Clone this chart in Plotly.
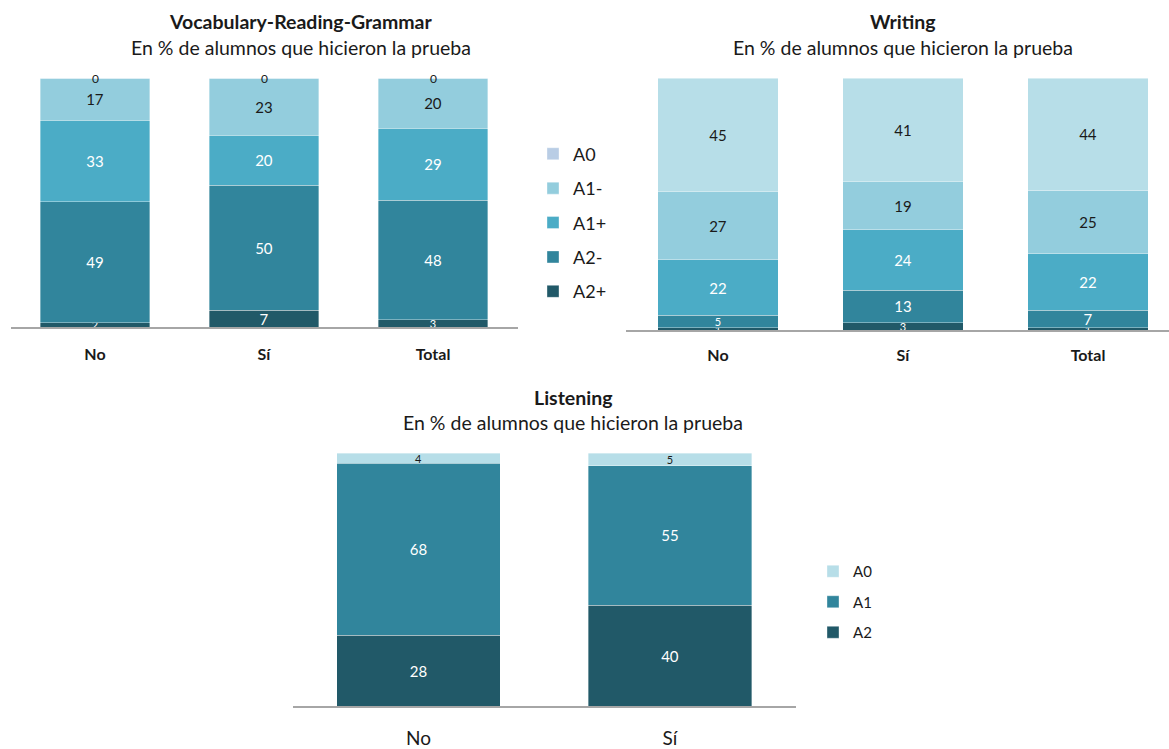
import plotly.graph_objects as go

# categories
cats = ["No", "Sí", "Total"]
lis_cats = ["No", "Sí"]
levels5 = ["A2+", "A2-", "A1+", "A1-", "A0"]
levels3 = ["A2", "A1", "A0"]

# Vocabulary-Reading-Grammar (% of students)
vrg_a2p = [2, 7, 3]
vrg_a2m = [49, 50, 48]
vrg_a1p = [33, 20, 29]
vrg_a1m = [17, 23, 20]
vrg_a0 = [0, 0, 0]

# Writing
wri_a2p = [1, 3, 1]
wri_a2m = [5, 13, 7]
wri_a1p = [22, 24, 22]
wri_a1m = [27, 19, 25]
wri_a0 = [45, 41, 44]

# Listening
lis_a2 = [28, 40]
lis_a1 = [68, 55]
lis_a0 = [4, 5]

FONT = "Lato"
W, H = 1169, 749

col5 = ["#215968", "#31859C", "#4BACC6", "#93CDDD", "#B9CDE5"]
col5w = ["#215968", "#31859C", "#4BACC6", "#93CDDD", "#B7DEE8"]
col3 = ["#215968", "#31859C", "#B7DEE8"]
txt5 = ["white", "white", "white", "#1a1a1a", "#1a1a1a"]
txt3 = ["white", "white", "#1a1a1a"]


def px(x):
    return x / W


def py(y):
    return 1 - y / H


def add_stack(fig, x, series, names, colors, tcolors, xa, ya, legend, show):
    totals = [sum(s[i] for s in series) for i in range(len(x))]
    cum = [0.0] * len(x)
    n = len(series)
    for k, (vals, name, c, tc) in enumerate(zip(series, names, colors, tcolors)):
        y = [v * 100.0 / t for v, t in zip(vals, totals)]
        sizes = [11 if v < 6 else 15 for v in vals]
        fig.add_trace(go.Bar(
            x=x, y=y, name=name, text=[str(v) for v in vals],
            textposition="inside", insidetextanchor="middle", textangle=0,
            constraintext="none", cliponaxis=False,
            textfont=dict(color=tc, size=sizes, family=FONT),
            marker=dict(color=c, line=dict(color="rgba(255,255,255,0.6)", width=0.6)),
            width=0.65, xaxis=xa, yaxis=ya, legend=legend, showlegend=show,
            legendgroup=xa + name, legendrank=n - k, hoverinfo="skip",
        ))
        for i, v in enumerate(vals):
            cum[i] += y[i]
            if v == 0:
                # zero-height segment: label sits on the top edge of the stack
                fig.add_annotation(x=x[i], y=cum[i], xref=xa, yref=ya, text=str(v),
                                   showarrow=False, yanchor="middle",
                                   font=dict(size=12, family=FONT, color=tc))


fig = go.Figure()
add_stack(fig, cats, [vrg_a2p, vrg_a2m, vrg_a1p, vrg_a1m, vrg_a0], levels5,
          col5, txt5, "x", "y", "legend", True)
add_stack(fig, cats, [wri_a2p, wri_a2m, wri_a1p, wri_a1m, wri_a0], levels5,
          col5w, txt5, "x2", "y2", "legend", False)
add_stack(fig, lis_cats, [lis_a2, lis_a1, lis_a0], levels3,
          col3, txt3, "x3", "y3", "legend2", True)

xcommon = dict(showline=True, linecolor="#a6a6a6", linewidth=1.5, showgrid=False,
               zeroline=False, ticks="outside", tickcolor="rgba(0,0,0,0)", fixedrange=True)
ycommon = dict(range=[0, 100], visible=False, showgrid=False, zeroline=False, fixedrange=True)

fig.update_layout(
    width=W, height=H, barmode="stack",
    margin=dict(l=0, r=0, t=0, b=0),
    paper_bgcolor="white", plot_bgcolor="white",
    font=dict(family=FONT, color="#1a1a1a"),
    xaxis=dict(domain=[px(10.5), px(517.5)], range=[-0.5, 2.5], anchor="y", ticklen=12,
               tickfont=dict(size=16, family=FONT, weight="bold"), **xcommon),
    yaxis=dict(domain=[py(331), py(79)], anchor="x", **ycommon),
    xaxis2=dict(domain=[px(625.5), 1], range=[-0.5, (1169 - 718) / 185.0], anchor="y2", ticklen=10,
                tickfont=dict(size=16, family=FONT, weight="bold"), **xcommon),
    yaxis2=dict(domain=[py(334), py(79)], anchor="x2", **ycommon),
    xaxis3=dict(domain=[px(292.75), px(795.75)], range=[-0.5, 1.5], anchor="y3", ticklen=14,
                tickfont=dict(size=19, family=FONT), **xcommon),
    yaxis3=dict(domain=[py(714), py(458)], anchor="x3", **ycommon),
    legend=dict(x=px(533), y=py(137), xanchor="left", yanchor="top",
                traceorder="grouped", tracegroupgap=8,
                font=dict(size=18, family=FONT), itemwidth=30),
    legend2=dict(x=px(813), y=py(561), xanchor="left", yanchor="top",
                 traceorder="grouped", tracegroupgap=8,
                 font=dict(size=15, family=FONT), itemwidth=30),
    showlegend=True,
)

titles = [
    (301, 22, "<b>Vocabulary-Reading-Grammar</b>"),
    (301, 48, "En % de alumnos que hicieron la prueba"),
    (903, 22, "<b>Writing</b>"),
    (903, 48, "En % de alumnos que hicieron la prueba"),
    (573, 402, "<b>Listening</b>"),
    (573, 427, "En % de alumnos que hicieron la prueba"),
]
for x, y, t in titles:
    fig.add_annotation(x=px(x), y=py(y), xref="paper", yref="paper", text=t,
                       showarrow=False, xanchor="center", yanchor="middle",
                       font=dict(size=19.5, family=FONT, color="#1a1a1a"))

# drop the default 8px page margin so the figure fills the window exactly
fig.write_html("out.html", config={"displayModeBar": False},
               post_script="document.body.style.margin='0';")
